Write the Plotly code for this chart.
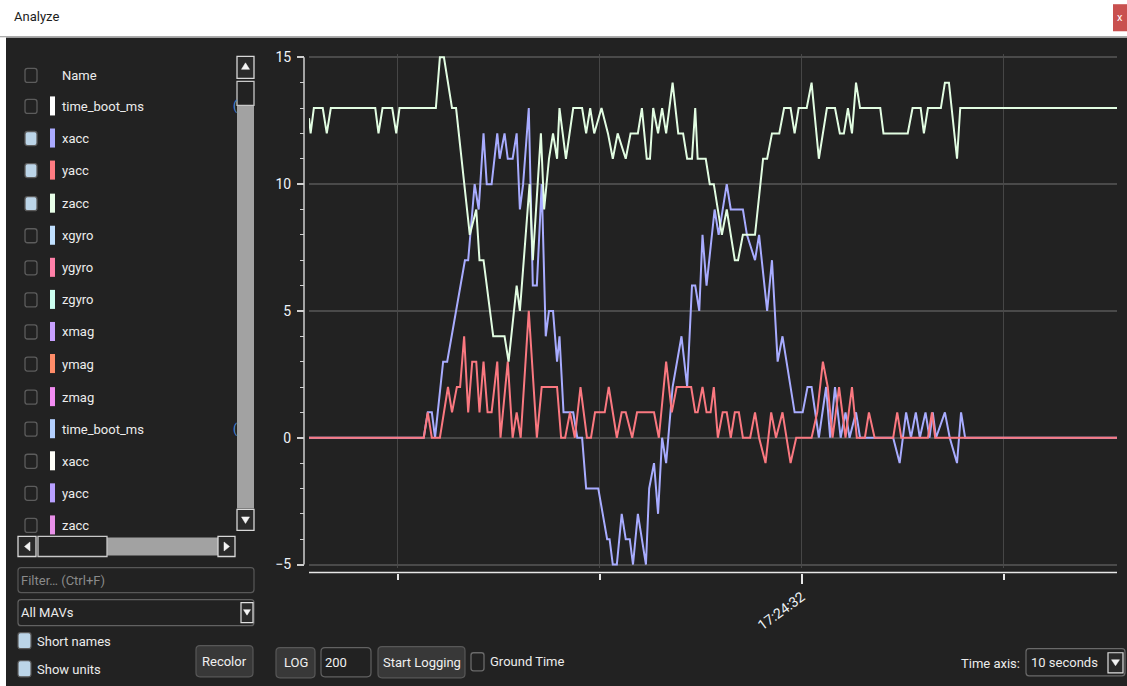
import plotly.graph_objects as go

W, H = 1127, 686
FONT = "Roboto, Liberation Sans, sans-serif"

# ---------------- chart data (time in s relative to 17:24:32, raw IMU values) ----------------
xacc_t = [-6.10, -4.68, -4.63, -4.58, -4.54, -4.44, -4.39, -4.17, -4.13, -4.05, -4.00, -3.94, -3.90,
          -3.84, -3.77, -3.74, -3.68, -3.64, -3.58, -3.53, -3.49, -3.45, -3.38, -3.33, -3.28, -3.22,
          -3.17, -3.13, -3.08, -3.03, -3.00, -2.95, -2.83, -2.78, -2.72, -2.67, -2.52, -2.41, -2.38,
          -2.34, -2.29, -2.23, -2.18, -2.13, -2.09, -2.03, -1.93, -1.89, -1.83, -1.78, -1.73, -1.68,
          -1.60, -1.49, -1.42, -1.36, -1.32, -1.27, -1.23, -1.18, -1.08, -1.03, -0.93, -0.88, -0.73,
          -0.68, -0.58, -0.53, -0.43, -0.37, -0.30, -0.24, -0.09, 0.01, 0.07, 0.12, 0.21, 0.30, 0.35,
          0.41, 0.48, 0.54, 0.59, 0.67, 0.72, 1.13, 1.21, 1.29, 1.35, 1.41, 1.46, 1.53, 1.58, 1.62,
          1.66, 1.77, 1.83, 1.92, 1.97, 2.02, 3.90]
xacc_v = [0, 0, 1, 1, 0, 3, 3, 7, 7, 10, 9, 12, 10,
          10, 12, 11, 12, 11, 11, 12, 9, 10, 13, 6, 6, 10,
          4, 5, 5, 3, 4, 1, 1, 0, 0, -2, -2, -4, -4,
          -5, -5, -3, -4, -4, -5, -3, -5, -2, -1, -3, 0, -1,
          2, 4, 2, 6, 6, 5, 8, 6, 9, 8, 10, 9, 9,
          8, 7, 8, 5, 7, 3, 4, 1, 1, 2, 2, 0, 2, 0,
          2, 0, 1, 0, 1, 0, 0, -1, 1, 0, 1, 0, 1, 0, 1,
          0, 1, 0, -1, 1, 0, 0]

yacc_t = [-6.10, -4.68, -4.63, -4.58, -4.48, -4.38, -4.33, -4.27, -4.23, -4.18, -4.13, -4.08, -4.03,
          -3.99, -3.94, -3.89, -3.84, -3.77, -3.73, -3.64, -3.58, -3.53, -3.48, -3.38, -3.28, -3.22,
          -3.03, -2.98, -2.93, -2.87, -2.81, -2.74, -2.66, -2.61, -2.56, -2.44, -2.39, -2.29, -2.23,
          -2.18, -2.10, -2.04, -1.83, -1.77, -1.68, -1.61, -1.55, -1.37, -1.32, -1.29, -1.23, -1.18,
          -1.13, -1.09, -1.04, -0.98, -0.93, -0.88, -0.83, -0.78, -0.73, -0.64, -0.58, -0.53, -0.45,
          -0.38, -0.32, -0.24, -0.14, -0.07, 0.12, 0.19, 0.26, 0.32, 0.38, 0.46, 0.54, 0.62, 0.68,
          0.78, 0.83, 0.90, 1.13, 1.18, 1.23, 1.56, 1.61, 1.65, 3.90]
yacc_v = [0, 0, 1, 0, 0, 2, 1, 2, 2, 4, 1, 3, 3,
          1, 3, 1, 1, 3, 0, 3, 0, 1, 0, 5, 0, 2,
          2, 0, 0, 1, 0, 2, 0, 0, 1, 1, 2, 0, 1,
          1, 0, 1, 1, 0, 3, 1, 2, 2, 1, 1, 2, 1,
          1, 2, 0, 1, 1, 0, 1, 1, 0, 0, 1, 0, -1,
          1, 0, 1, -1, 0, 0, 1, 3, 2, 0, 2, 0, 2, 0,
          0, 1, 0, 0, 1, 0, 0, 1, 0, 0]

zacc_t = [-6.10, -6.08, -6.04, -5.93, -5.88, -5.83, -5.28, -5.24, -5.19, -5.07, -5.02, -4.98, -4.53,
          -4.48, -4.43, -4.33, -4.28, -4.11, -4.03, -3.99, -3.94, -3.82, -3.68, -3.63, -3.53, -3.49,
          -3.37, -3.33, -3.23, -3.19, -3.13, -3.08, -3.03, -3.00, -2.92, -2.83, -2.72, -2.67, -2.62,
          -2.57, -2.48, -2.40, -2.34, -2.28, -2.18, -2.12, -2.03, -1.98, -1.92, -1.88, -1.84, -1.78,
          -1.73, -1.68, -1.60, -1.53, -1.47, -1.42, -1.36, -1.32, -1.29, -1.19, -1.14, -1.09, -0.99,
          -0.93, -0.83, -0.79, -0.73, -0.58, -0.48, -0.43, -0.37, -0.28, -0.22, -0.14, -0.09, -0.04,
          0.06, 0.12, 0.21, 0.31, 0.41, 0.47, 0.52, 0.57, 0.62, 0.67, 0.72, 0.97, 1.01, 1.31, 1.37,
          1.47, 1.51, 1.56, 1.72, 1.77, 1.82, 1.92, 1.96, 3.90]
zacc_v = [12.6, 12, 13, 13, 12, 13, 13, 12, 13, 13, 12, 13, 13,
          15, 15, 13, 13, 8, 9, 7, 7, 4, 4, 3, 6, 5,
          10, 7, 12, 9, 11, 12, 11, 13, 11, 13, 13, 12, 13,
          12, 13, 12, 11, 12, 11, 12, 12, 13, 11, 11, 13, 12,
          13, 12, 14, 12, 12, 11, 11, 13, 11, 11, 10, 10, 8,
          9, 7, 7, 8, 8, 11, 11, 12, 12, 13, 13, 12, 13,
          13, 14, 11, 13, 13, 12, 12, 13, 12, 14, 13, 13, 12, 12, 13,
          13, 12, 13, 13, 14, 14, 11, 13, 13]

time_window = [-6.10, 3.90]
value_range = [-5.15, 15.15]
y_tick_step = 5
x_major_ticks = [0.0]
x_major_labels = ["17:24:32"]
x_minor_ticks = [-5.0, -2.5, 2.5]

series_names = ["xacc", "yacc", "zacc"]
series_colors = ["#a8acff", "#fa7880", "#e2fde2"]

# ---------------- side list ----------------
list_names = ["Name", "time_boot_ms", "xacc", "yacc", "zacc", "xgyro", "ygyro", "zgyro", "xmag",
              "ymag", "zmag", "time_boot_ms", "xacc", "yacc", "zacc"]
list_colors = [None, "#ffffff", "#aaaaff", "#ff7c82", "#e8ffe8", "#c0e0ff", "#ff80a8", "#ccfff0",
               "#c8a0ff", "#ff8c68", "#f28cf2", "#b4d0ff", "#fffff8", "#b8a0ff", "#e890e8"]
list_checked = [False, False, True, True, True, False, False, False, False, False, False, False,
                False, False, False]
list_rows_y = [76, 107, 139, 171, 204, 236, 268, 300, 332, 364, 397, 429, 461, 493, 525]

# vertical placement correction for the capture (slight vertical squeeze about the centre)
SQ, CY = 0.986, 343.0


def X(px):
    return px / W


def Y(py):
    return 1 - (CY + (py - CY) / SQ) / H


shapes = []
annotations = []
NONE = "rgba(0,0,0,0)"


def rect(x0, y0, x1, y1, fill=None, line=None, lw=1.0):
    shapes.append(dict(type="rect", xref="paper", yref="paper", x0=X(x0), x1=X(x1), y0=Y(y1), y1=Y(y0),
                       fillcolor=fill or NONE, line=dict(color=line or NONE, width=lw if line else 0),
                       layer="below"))


def rrect(x0, y0, x1, y1, r=3, fill=None, line=None, lw=1.0):
    p = (f"M {X(x0 + r)},{Y(y0)} L {X(x1 - r)},{Y(y0)} Q {X(x1)},{Y(y0)} {X(x1)},{Y(y0 + r)} "
         f"L {X(x1)},{Y(y1 - r)} Q {X(x1)},{Y(y1)} {X(x1 - r)},{Y(y1)} "
         f"L {X(x0 + r)},{Y(y1)} Q {X(x0)},{Y(y1)} {X(x0)},{Y(y1 - r)} "
         f"L {X(x0)},{Y(y0 + r)} Q {X(x0)},{Y(y0)} {X(x0 + r)},{Y(y0)} Z")
    shapes.append(dict(type="path", xref="paper", yref="paper", path=p, fillcolor=fill or NONE,
                       line=dict(color=line or NONE, width=lw if line else 0), layer="below"))


def tri(pts, color="#f4f4f4"):
    p = "M " + " L ".join(f"{X(a)},{Y(b)}" for a, b in pts) + " Z"
    shapes.append(dict(type="path", xref="paper", yref="paper", path=p, fillcolor=color,
                       line=dict(color=color, width=0.5), layer="below"))


def text(px, py, s, size=13, color="#e8e8e8", anchor="left"):
    annotations.append(dict(x=X(px), y=Y(py), xref="paper", yref="paper", text=s, showarrow=False,
                            xanchor=anchor, yanchor="middle", borderpad=0,
                            font=dict(family=FONT, size=size, color=color)))


BG = "#222222"

# window chrome
rect(0, -10, W, 37, fill="#ffffff")
rect(0, 37, W, 38.5, fill="#c8c8c8")
rect(0, 38, 6, H + 10, fill="#ffffff")
text(13, 17, "Analyze", size=13, color="#1c1c1c")
rect(1113, 5, 1127, 32, fill="#c9504f")
text(1120, 18, "x", size=11, color="#ffffff", anchor="center")

# signal list
for name, col, chk, cy in zip(list_names, list_colors, list_checked, list_rows_y):
    rrect(25, cy - 7, 37, cy + 7, r=2.5, fill="#bcd5e8" if chk else None, line="#5c5c5c", lw=1.3)
    if col:
        rect(50, cy - 10, 55, cy + 9, fill=col)
    text(61, cy, name, color="#ececec")
    if name == "time_boot_ms":
        text(232, cy, "(", size=12, color="#4a90e2")

# vertical scrollbar
rect(237, 106, 254, 508, fill="#a2a2a2")
rect(237, 57, 254, 79, fill="#2a2a2a", line="#d8d8d8", lw=1.3)
tri([(241.5, 70), (249.5, 70), (245.5, 63.5)])
rect(237, 82, 254, 106, fill="#222222", line="#c8c8c8", lw=1.3)
rect(237, 509, 254, 530, fill="#2a2a2a", line="#d8d8d8", lw=1.3)
tri([(241.5, 516.5), (249.5, 516.5), (245.5, 523)])

# horizontal scrollbar
rect(107, 537, 218, 555, fill="#a2a2a2")
rect(18, 536, 36, 556, fill="#2a2a2a", line="#d8d8d8", lw=1.3)
tri([(30, 541.5), (30, 550.5), (24.5, 546)])
rect(38, 536, 107, 556, fill="#222222", line="#c8c8c8", lw=1.3)
rect(218, 536, 235, 556, fill="#2a2a2a", line="#d8d8d8", lw=1.3)
tri([(224, 541.5), (224, 550.5), (229.5, 546)])

# filter / combo / options
rrect(18, 567, 254, 592, r=3, line="#585858", lw=1.2)
text(20, 580, "Filter… (Ctrl+F)", color="#8a8a8a")
rrect(18, 599, 254, 625, r=3, line="#626262", lw=1.2)
text(20, 612, "All MAVs", color="#ececec")
rect(241, 602, 253, 622, fill="#2a2a2a", line="#e0e0e0", lw=1.2)
tri([(243.5, 609), (250.5, 609), (247, 614.5)])
rrect(18, 632, 31, 648, r=2.5, fill="#bcd5e8", line="#5c5c5c", lw=1.2)
text(36, 641, "Short names", color="#ececec")
rrect(18, 660, 31, 676, r=2.5, fill="#bcd5e8", line="#5c5c5c", lw=1.2)
text(36, 669, "Show units", color="#ececec")

# buttons
rrect(196, 645, 253, 676, r=4, fill="#383838", line="#585858", lw=1.2)
text(224.5, 661, "Recolor", color="#f0f0f0", anchor="center")
rrect(276, 647, 315, 677, r=4, fill="#383838", line="#585858", lw=1.2)
text(295.5, 662, "LOG", color="#f0f0f0", anchor="center")
rrect(321, 647, 371, 676, r=4, fill="#222222", line="#626262", lw=1.2)
text(324, 662, "200", color="#f0f0f0")
rrect(378, 646, 465, 677, r=4, fill="#383838", line="#585858", lw=1.2)
text(421.5, 662, "Start Logging", color="#f0f0f0", anchor="center")
rrect(471, 652, 484, 670, r=2.5, line="#6a6a6a", lw=1.3)
text(489, 661, "Ground Time", color="#ececec")
text(1021, 663, "Time axis:", color="#ececec", anchor="right")
rrect(1026, 648, 1125, 675, r=3, line="#6a6a6a", lw=1.2)
text(1030, 662, "10 seconds", color="#ececec")
rect(1108, 652, 1123, 672, fill="#2a2a2a", line="#e0e0e0", lw=1.2)
tri([(1111.5, 659), (1119.5, 659), (1115.5, 665)])

# axis backbones
shapes.append(dict(type="line", xref="paper", yref="y", x0=X(304), x1=X(304), y0=-5, y1=15,
                   line=dict(color="#cfcfcf", width=1.5), layer="below"))
shapes.append(dict(type="line", xref="x", yref="paper", x0=time_window[0], x1=time_window[1],
                   y0=Y(572), y1=Y(572), line=dict(color="#e8e8e8", width=1.5), layer="below"))

fig = go.Figure()
for name, tt, vv, col in zip(series_names, [xacc_t, yacc_t, zacc_t], [xacc_v, yacc_v, zacc_v], series_colors):
    fig.add_trace(go.Scatter(x=tt, y=vv, mode="lines", name=name, line=dict(color=col, width=2),
                             hoverinfo="skip"))

fig.update_layout(
    width=W, height=H, margin=dict(l=0, r=0, t=0, b=0),
    paper_bgcolor=BG, plot_bgcolor=BG, showlegend=False,
    shapes=shapes, annotations=annotations,
    xaxis=dict(domain=[X(309), X(1117)], range=time_window, anchor="free", position=Y(572),
               showline=False, zeroline=False, showgrid=True, gridcolor="#464646", gridwidth=1,
               tickmode="array", tickvals=x_major_ticks, ticktext=x_major_labels,
               ticks="outside", ticklen=10, tickwidth=1.5, tickcolor="#e8e8e8", tickangle=-36,
               tickfont=dict(family=FONT, size=14, color="#eef3f8"),
               minor=dict(tickmode="array", tickvals=x_minor_ticks, ticks="outside", ticklen=6,
                          tickwidth=1.5, tickcolor="#e8e8e8", showgrid=True, gridcolor="#464646",
                          gridwidth=1)),
    yaxis=dict(domain=[Y(567.8), Y(54.2)], range=value_range, anchor="free", position=X(304),
               showline=False, zeroline=False, showgrid=True, gridcolor="#4a4a4a", gridwidth=1.5,
               tickmode="linear", tick0=0, dtick=y_tick_step,
               ticks="outside", ticklen=7, tickwidth=1.5, tickcolor="#cfcfcf",
               tickfont=dict(family=FONT, size=14, color="#eef3f8"), ticklabelstandoff=3,
               minor=dict(dtick=1, ticks="outside", ticklen=4, tickwidth=1.3, tickcolor="#cfcfcf",
                          showgrid=False)),
)

fig.write_html("out.html", config={"displayModeBar": False},
               post_script="document.body.style.margin='0';document.body.style.padding='0';"
                           "document.body.style.overflow='hidden';"
                           "document.documentElement.style.overflow='hidden';")
